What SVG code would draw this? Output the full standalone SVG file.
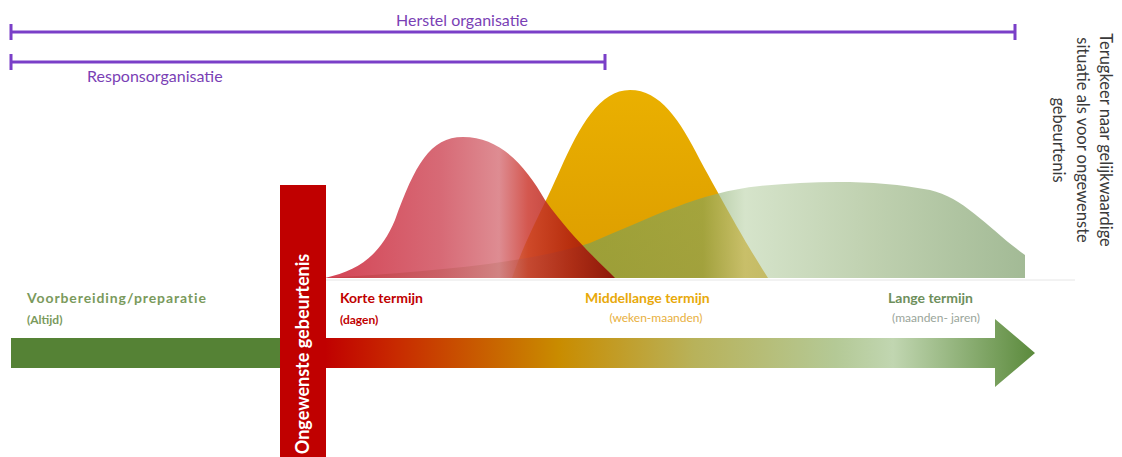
<svg xmlns="http://www.w3.org/2000/svg" width="1122" height="457" viewBox="0 0 1122 457">
<defs>
<style>
.lbl{font-family:Lato,"Open Sans","Liberation Sans",sans-serif}
.purple{fill:#7a3fb5;font-size:16px}
.pline{stroke:#7a3fc8;stroke-width:3;fill:none}
.term{font-size:14px;font-weight:bold}
.sub{font-size:12px}
.side{fill:#3a3a3a;font-size:16.5px}
</style>
<linearGradient id="arrowGrad" gradientUnits="userSpaceOnUse" x1="325" y1="0" x2="1035" y2="0">
<stop offset="0" stop-color="#c00000"/>
<stop offset="0.1" stop-color="#c82a00"/>
<stop offset="0.33" stop-color="#c98c00"/>
<stop offset="0.52" stop-color="#b8b25a"/>
<stop offset="0.72" stop-color="#b4c996"/>
<stop offset="0.8" stop-color="#c1d6b1"/>
<stop offset="1" stop-color="#5b8a3c"/>
</linearGradient>
<linearGradient id="redGrad" gradientUnits="userSpaceOnUse" x1="325" y1="0" x2="615" y2="0">
<stop offset="0" stop-color="#cc2236"/>
<stop offset="0.4" stop-color="#d0505e"/>
<stop offset="0.6" stop-color="#d8787f"/>
<stop offset="0.7" stop-color="#cc3a30"/>
<stop offset="0.85" stop-color="#b01a10"/>
<stop offset="1" stop-color="#8a0000"/>
</linearGradient>
<linearGradient id="yelGrad" gradientUnits="userSpaceOnUse" x1="0" y1="90" x2="0" y2="278">
<stop offset="0" stop-color="#eab000"/>
<stop offset="1" stop-color="#dc9c00"/>
</linearGradient>
<linearGradient id="grnGrad" gradientUnits="userSpaceOnUse" x1="325" y1="0" x2="1025" y2="0">
<stop offset="0" stop-color="#6f9450"/>
<stop offset="0.4" stop-color="#76a05a"/>
<stop offset="0.54" stop-color="#7ea462"/>
<stop offset="0.6" stop-color="#bcd3aa"/>
<stop offset="0.78" stop-color="#98b47f"/>
<stop offset="1" stop-color="#6a9055"/>
</linearGradient>
</defs>
<rect width="1122" height="457" fill="#ffffff"/>

<g id="herstel">
<path class="pline" d="M10,32 H1015 M11,24 V40 M1015,24 V40"/>
<text class="lbl purple" x="462" y="26" text-anchor="middle">Herstel organisatie</text>
</g>
<g id="respons">
<path class="pline" d="M10,62 H605 M11,54 V70 M605,54 V70"/>
<text class="lbl purple" x="87" y="82">Responsorganisatie</text>
</g>

<g id="terugkeer" transform="translate(1083,140) rotate(90)">
<text class="lbl side" x="0" y="-17" text-anchor="middle">Terugkeer naar gelijkwaardige</text>
<text class="lbl side" x="0" y="6.5" text-anchor="middle">situatie als voor ongewenste</text>
<text class="lbl side" x="0" y="30" text-anchor="middle">gebeurtenis</text>
</g>

<g id="curves">
<line x1="325" y1="280" x2="1075" y2="280" stroke="#e6e6e6" stroke-width="1"/>
<path id="yellow" d="M512,278 C525,240 540,215 560,170 C580,125 600,90 630,90 C660,90 680,120 700,160 C730,215 750,250 768,278 Z" fill="url(#yelGrad)"/>
<path id="green" d="M325,278 C420,272 520,265 590,243 C650,218 700,192 760,186 C820,180 880,180 930,190 C965,198 990,230 1025,255 L1025,278 Z" fill="url(#grnGrad)" fill-opacity="0.62"/>
<path id="red" d="M325,278 C360,270 380,255 395,220 C415,165 430,137 463,137 C500,137 525,165 545,200 C570,235 595,258 615,278 Z" fill="url(#redGrad)" fill-opacity="0.85"/>
</g>

<g id="preparatie">
<rect x="11" y="338" width="270" height="30" fill="#558235"/>
<text class="lbl term" x="27" y="303" fill="#7a9a5c" letter-spacing="0.9">Voorbereiding/preparatie</text>
<text class="lbl sub" x="27" y="324" fill="#7a9a5c" font-weight="bold" font-size="11.5">(Altijd)</text>
</g>

<g id="tijdlijn">
<path d="M325,338 H995 V319 L1035,353 L995,387 V368 H325 Z" fill="url(#arrowGrad)"/>
<text class="lbl term" x="340" y="303" fill="#c00000">Korte termijn</text>
<text class="lbl sub" x="340" y="324" fill="#c00000" font-weight="bold">(dagen)</text>
<text class="lbl term" x="585" y="303" fill="#e8a90a">Middellange termijn</text>
<text class="lbl sub" x="656" y="322" fill="#e8b040" text-anchor="middle">(weken-maanden)</text>
<text class="lbl term" x="888" y="303" fill="#6e8f5c">Lange termijn</text>
<text class="lbl sub" x="936" y="322" fill="#9aa59a" text-anchor="middle">(maanden- jaren)</text>
</g>

<g id="ongewenst">
<rect x="280" y="185" width="46" height="272" fill="#c00000"/>
<text class="lbl" transform="translate(309,354) rotate(-90)" x="0" y="0" text-anchor="middle" fill="#ffffff" font-size="18" font-weight="bold">Ongewenste gebeurtenis</text>
</g>
</svg>
